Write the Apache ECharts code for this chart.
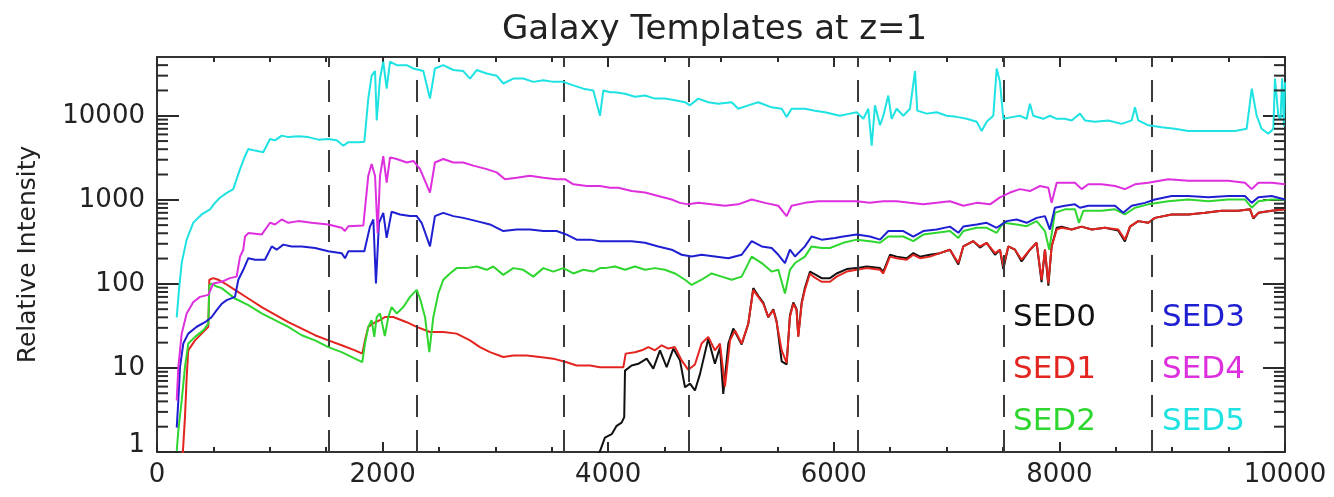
<!DOCTYPE html>
<html>
<head>
<meta charset="utf-8">
<script src="https://cdn.jsdelivr.net/npm/echarts@6/dist/echarts.min.js"></script>
<style>
  html, body { margin: 0; padding: 0; background: #fff; }
  #chart { width: 1334px; height: 497px; }
</style>
</head>
<body>
<div id="chart"></div>
<script>
// Template spectra, [wavelength, relative intensity]
const sed0 = [[3912,0.9],[3971,1.48],[4031,1.63],[4075,2.05],[4119,2.24],[4142,2.6],[4149,9.3],[4208,10.7],[4267,11.2],[4341,12.9],[4400,9.8],[4459,16.2],[4518,10.2],[4577,17],[4636,12.3],[4681,5.9],[4725,6.5],[4769,5.4],[4814,8.5],[4887,22.3],[4946,11.2],[4991,17.7],[5020,4.9],[5065,19.5],[5109,29.4],[5183,19],[5242,33.6],[5286,89],[5330,72],[5375,60],[5419,40],[5464,50],[5493,36],[5538,12],[5582,11],[5611,42],[5641,60],[5670,50],[5685,24],[5715,60],[5744,90],[5789,140],[5818,133],[5892,117],[5966,117],[6025,133],[6114,150],[6203,154],[6291,161],[6410,154],[6439,140],[6498,222],[6557,211],[6646,202],[6705,232],[6764,211],[6852,222],[6941,232],[7030,255],[7104,170],[7148,279],[7237,322],[7296,270],[7355,308],[7429,222],[7473,255],[7503,150],[7547,279],[7606,255],[7665,185],[7739,255],[7798,308],[7842,105],[7872,255],[7902,95],[7931,279],[7976,465],[8020,480],[8108,443],[8197,480],[8286,443],[8404,465],[8522,430],[8581,320],[8626,480],[8699,558],[8788,533],[8847,610],[8995,670],[9143,670],[9291,700],[9439,740],[9586,740],[9690,770],[9719,600],[9764,700],[9882,740],[10000,770]];

const sed1 = [[225,0.8],[248,2.6],[263,7.7],[277,16.2],[337,21.3],[396,25.6],[455,30.8],[464,112],[499,117],[543,112],[603,101],[691,85],[810,67],[928,53],[1046,43],[1164,35],[1283,29.4],[1401,24.5],[1519,21.3],[1637,18.6],[1755,16.2],[1820,14.8],[1844,21.3],[1873,30.8],[1933,35],[1977,37],[2021,40.4],[2095,40.4],[2214,35],[2302,30.8],[2420,26.8],[2538,26.8],[2656,25.6],[2775,21.3],[2863,17.7],[2952,15.4],[3070,13.5],[3159,14.1],[3277,14.1],[3395,13.5],[3513,12.9],[3632,11.7],[3720,10.7],[3839,10.7],[3927,10.2],[4016,10.2],[4089,10.2],[4134,10.2],[4155,14.8],[4237,15.4],[4297,16.2],[4356,17.7],[4415,16.2],[4474,18.6],[4533,17],[4592,17.7],[4651,12.3],[4710,9.5],[4769,11],[4828,19.5],[4887,23.4],[4946,16.2],[4991,19.5],[5035,6],[5080,21.3],[5124,28],[5183,19.5],[5242,33.6],[5286,85],[5330,70],[5375,58],[5419,40.4],[5464,48.8],[5493,35],[5538,16.2],[5582,11.5],[5611,40.4],[5641,58],[5670,48.8],[5685,23.4],[5715,58],[5744,85],[5789,133],[5818,122],[5892,106],[5966,106],[6025,122],[6114,140],[6203,147],[6291,154],[6410,147],[6439,133],[6498,211],[6557,202],[6646,194],[6705,222],[6764,202],[6852,211],[6941,232],[7030,255],[7104,177],[7148,279],[7237,322],[7296,279],[7355,308],[7429,232],[7473,255],[7503,162],[7547,279],[7606,255],[7665,194],[7739,255],[7798,308],[7842,112],[7872,255],[7902,101],[7931,279],[7976,443],[8020,465],[8108,443],[8197,480],[8286,443],[8404,465],[8522,443],[8581,336],[8626,480],[8699,558],[8788,533],[8847,610],[8995,670],[9143,670],[9291,700],[9439,740],[9586,740],[9690,770],[9719,610],[9764,700],[9882,740],[10000,770]];

const sed2 = [[175,1.03],[189,1.78],[219,4.1],[248,10.2],[277,19.5],[337,23.4],[410,28],[455,33.6],[464,97],[485,101],[529,93],[574,89],[691,67],[810,56],[928,44.5],[1046,37],[1164,30.8],[1283,24.5],[1401,21.3],[1519,17.7],[1637,15.4],[1755,12.9],[1820,11.7],[1844,19.5],[1873,30.8],[1903,37],[1926,23.4],[1948,40.4],[1977,44.5],[2020,24],[2050,40],[2080,53],[2125,44.5],[2184,53],[2243,70],[2302,85],[2332,67],[2376,40.4],[2414,15.4],[2450,40.4],[2494,77],[2538,112],[2597,133],[2656,154],[2745,154],[2834,161],[2923,147],[2981,161],[3070,128],[3159,154],[3247,147],[3336,122],[3425,154],[3513,140],[3602,154],[3691,133],[3779,147],[3868,140],[3927,154],[3971,154],[4060,161],[4149,147],[4237,161],[4326,147],[4415,154],[4503,147],[4592,133],[4681,112],[4740,97],[4828,112],[4917,133],[5006,122],[5095,112],[5183,122],[5272,211],[5361,177],[5449,140],[5508,147],[5567,77],[5611,147],[5656,177],[5744,211],[5803,279],[5892,267],[5966,267],[6084,308],[6203,336],[6321,322],[6410,308],[6483,366],[6616,366],[6705,322],[6793,386],[6912,405],[7030,425],[7104,352],[7148,425],[7267,465],[7355,465],[7444,405],[7503,533],[7621,509],[7710,485],[7798,558],[7872,425],[7910,255],[7960,700],[8049,770],[8138,770],[8173,533],[8212,740],[8374,740],[8493,770],[8581,670],[8670,805],[8788,883],[8965,960],[9143,1010],[9320,960],[9497,1010],[9645,1010],[9705,805],[9764,960],[9882,1010],[10000,1010]];

const sed3 = [[175,1.95],[189,4.1],[204,10.2],[233,19.5],[277,25.6],[352,30.9],[426,35],[485,40.4],[529,48.8],[574,58],[618,64],[691,70],[721,112],[765,147],[810,202],[869,194],[957,194],[1017,279],[1061,255],[1120,293],[1194,279],[1283,279],[1401,267],[1519,244],[1637,232],[1667,202],[1696,244],[1838,244],[1888,480],[1918,584],[1941,101],[1968,533],[2006,700],[2036,352],[2080,720],[2154,670],[2243,640],[2302,640],[2346,533],[2420,279],[2464,640],[2538,700],[2627,640],[2715,610],[2834,558],[2952,509],[3070,425],[3189,443],[3306,443],[3425,425],[3543,425],[3632,386],[3720,336],[3839,336],[3927,322],[4016,322],[4089,322],[4208,322],[4326,308],[4444,279],[4563,255],[4651,222],[4740,212],[4828,222],[4946,212],[5065,202],[5183,222],[5272,322],[5361,279],[5449,267],[5508,222],[5567,177],[5611,255],[5656,212],[5744,279],[5803,366],[5892,336],[6010,352],[6084,366],[6203,386],[6321,366],[6410,336],[6483,425],[6616,425],[6705,366],[6793,425],[6912,443],[7030,480],[7104,405],[7148,480],[7267,509],[7355,533],[7444,465],[7532,558],[7621,584],[7710,533],[7798,610],[7872,640],[7916,443],[7960,805],[8049,850],[8138,883],[8182,805],[8256,850],[8374,850],[8493,850],[8566,700],[8641,850],[8758,920],[8847,1010],[8995,1110],[9143,1110],[9320,1070],[9497,1110],[9645,1110],[9705,920],[9764,1070],[9882,1110],[10000,1010]];

const sed4 = [[175,4.1],[189,10.2],[219,25.6],[263,44.5],[322,61],[381,70],[455,74],[499,101],[574,106],[647,117],[706,122],[736,211],[765,255],[780,366],[810,402],[928,386],[1002,533],[1046,509],[1105,584],[1164,533],[1253,558],[1371,533],[1519,509],[1637,465],[1667,425],[1696,485],[1829,495],[1873,1930],[1903,2660],[1933,1930],[1956,400],[1977,1930],[2006,3300],[2036,1600],[2066,3200],[2125,3060],[2214,2780],[2273,2900],[2332,2320],[2420,1220],[2464,2780],[2538,3060],[2627,2780],[2715,2780],[2804,2550],[2923,2320],[3011,2120],[3085,1760],[3189,1830],[3306,1930],[3425,1830],[3543,1760],[3617,1760],[3691,1530],[3809,1460],[3927,1460],[4016,1390],[4089,1390],[4208,1270],[4326,1220],[4444,1110],[4563,1010],[4636,920],[4710,883],[4799,920],[4917,883],[5035,850],[5153,883],[5272,1010],[5390,920],[5508,850],[5582,640],[5626,850],[5744,920],[5862,960],[6010,960],[6084,960],[6203,960],[6321,920],[6439,960],[6557,960],[6675,920],[6793,883],[6912,920],[7030,960],[7148,850],[7267,920],[7385,883],[7473,1070],[7562,1220],[7650,1340],[7739,1270],[7828,1460],[7902,1390],[7931,920],[7976,1600],[8049,1600],[8138,1600],[8197,1340],[8256,1530],[8374,1530],[8493,1460],[8581,1340],[8670,1530],[8788,1600],[8965,1760],[9143,1690],[9320,1690],[9497,1690],[9645,1600],[9705,1340],[9764,1600],[9882,1600],[10000,1530]];

const sed5 = [[175,40],[195,85],[219,178],[263,336],[322,535],[396,670],[470,769],[514,920],[558,1060],[618,1210],[676,1340],[706,1760],[736,2320],[780,3300],[810,4030],[869,3850],[942,3680],[1002,5300],[1046,5100],[1105,5800],[1164,5570],[1253,5700],[1341,5570],[1430,5200],[1519,5300],[1593,5100],[1652,4400],[1696,4850],[1785,4850],[1838,4900],[1873,16000],[1903,30000],[1933,34000],[1948,8800],[1977,27700],[2006,44000],[2036,21000],[2066,44000],[2125,40000],[2214,40000],[2273,36500],[2361,34000],[2420,16000],[2464,36500],[2538,40000],[2627,35000],[2715,34000],[2775,27700],[2834,35000],[2923,31800],[3011,30000],[3070,24200],[3159,27700],[3247,27700],[3336,25300],[3425,26500],[3513,25300],[3602,25300],[3691,23000],[3779,21000],[3868,20000],[3927,10000],[3957,20000],[4016,19000],[4060,19000],[4149,18300],[4237,16800],[4326,17400],[4415,16000],[4503,16000],[4592,15300],[4681,14500],[4725,13300],[4799,16000],[4887,14500],[4976,13900],[5095,14500],[5153,12100],[5242,13300],[5330,14500],[5449,12600],[5538,12100],[5582,9700],[5626,12100],[5744,12100],[5833,11500],[5922,11000],[6054,10000],[6143,10600],[6203,11000],[6262,9200],[6306,12100],[6336,4400],[6365,13300],[6410,7700],[6439,10000],[6483,17400],[6513,9200],[6557,12100],[6616,10000],[6675,12100],[6720,34000],[6740,11500],[6823,10600],[6912,11000],[7000,10000],[7089,9700],[7178,9200],[7267,8500],[7311,6600],[7355,8500],[7414,10000],[7444,36500],[7473,25300],[7503,9200],[7591,9700],[7650,10000],[7710,9200],[7739,13900],[7768,10000],[7857,9200],[7916,10000],[7976,9200],[8049,9200],[8108,8800],[8182,10600],[8227,8800],[8315,8500],[8433,8800],[8552,8000],[8641,8800],[8670,12600],[8699,8800],[8788,7700],[8906,7300],[9024,6990],[9143,6600],[9291,6600],[9439,6600],[9557,6600],[9660,7000],[9705,21000],[9749,10000],[9793,7000],[9852,6100],[9897,7000],[9911,27700],[9941,10000],[9960,9000],[9975,28000],[9990,7500],[10000,25000]];

const seriesNames = ['SED0', 'SED1', 'SED2', 'SED3', 'SED4', 'SED5'];
const seriesColors = ['#111111', '#e3241f', '#2fd62f', '#1f1fd2', '#dd2fdd', '#1fe2e2'];
const seriesData = [sed0, sed1, sed2, sed3, sed4, sed5];

// Vertical dashed reference wavelengths
const bandEdges = [1520, 2300, 3610, 4715, 6215, 7510, 8820];

// Axis ticks
const xTickInterval = 2000;
const yMinorTicks = [2,3,4,5,6,7,8,9,20,30,40,50,60,70,80,90,200,300,400,500,600,700,800,900,
  2000,3000,4000,5000,6000,7000,8000,9000,20000,30000,40000];

const FONT = 'DejaVu Sans';
const INK = '#222';
const TICK = '#2a2a2a';

const chart = echarts.init(document.getElementById('chart'), null, { renderer: 'canvas' });

const frameLine = { show: true, onZero: false, lineStyle: { color: '#333', width: 2 } };

function xAxisDef(pos, showLabels) {
  return {
    type: 'value', position: pos, min: 0, max: 10000, interval: xTickInterval,
    axisLine: frameLine,
    axisTick: { show: true, inside: true, length: 10, lineStyle: { color: TICK, width: 2 } },
    minorTick: { show: true, splitNumber: 4, length: 5, lineStyle: { color: TICK, width: 2 } },
    splitLine: { show: false },
    minorSplitLine: { show: false },
    axisLabel: {
      show: showLabels, margin: 10, color: INK, fontFamily: FONT, fontSize: 26,
      formatter: v => String(v)
    }
  };
}

function yAxisDef(pos, showLabels) {
  const def = {
    type: 'log', logBase: 10, position: pos, min: 1, max: 50000,
    axisLine: frameLine,
    axisTick: { show: true, inside: true, length: 22, lineStyle: { color: TICK, width: 2 } },
    splitLine: { show: false },
    axisLabel: {
      show: showLabels, margin: 12, color: INK, fontFamily: FONT, fontSize: 26,
      showMaxLabel: false,
      formatter: v => {
        const n = Math.round(v);
        return n === 1 ? '{one|1}' : String(n);
      },
      rich: { one: { fontFamily: FONT, fontSize: 26, color: INK, padding: [0, 0, 14, 0] } }
    }
  };
  if (showLabels) {
    def.name = 'Relative Intensity';
    def.nameLocation = 'middle';
    def.nameGap = 116;
    def.nameTextStyle = { fontFamily: FONT, fontSize: 25, color: INK };
  }
  return def;
}

function legendDef(left, names) {
  return {
    orient: 'vertical', left: left, top: 300, padding: 0,
    icon: 'none', itemWidth: 0, itemHeight: 36, itemGap: 16,
    selectedMode: false,
    textStyle: { fontFamily: FONT, fontSize: 31, lineHeight: 36 },
    data: names.map(n => ({
      name: n,
      textStyle: { color: seriesColors[seriesNames.indexOf(n)] }
    }))
  };
}

const lineSeries = seriesNames.map((name, i) => ({
  name: name,
  type: 'line',
  data: seriesData[i],
  showSymbol: false,
  symbol: 'none',
  clip: true,
  color: seriesColors[i],
  lineStyle: { color: seriesColors[i], width: 2 },
  z: 3 + i
}));

const option = {
  animation: false,
  backgroundColor: '#ffffff',
  title: {
    text: 'Galaxy Templates at z=1',
    left: 502, top: 13, padding: 0,
    textStyle: { fontFamily: FONT, fontSize: 34, fontWeight: 'normal', color: INK }
  },
  grid: { left: 157, right: 49, top: 57, bottom: 45, containLabel: false, outerBoundsMode: 'none' },
  legend: [
    legendDef(1008, ['SED0', 'SED1', 'SED2']),
    legendDef(1157, ['SED3', 'SED4', 'SED5'])
  ],
  xAxis: [xAxisDef('bottom', true), xAxisDef('top', false)],
  yAxis: [yAxisDef('left', true), yAxisDef('right', false)],
  series: [
    {
      name: 'bandEdges',
      type: 'line',
      data: [],
      silent: true,
      z: 2,
      markLine: {
        silent: true,
        symbol: ['none', 'none'],
        label: { show: false },
        lineStyle: { type: [22, 13], color: '#3a3a3a', width: 2 },
        data: bandEdges.map(x => ({ xAxis: x }))
      }
    },
    {
      // log-decade minor ticks on the left and right frame edges
      name: 'yMinorTicks',
      type: 'custom',
      coordinateSystem: 'cartesian2d',
      xAxisIndex: 0,
      yAxisIndex: 0,
      silent: true,
      clip: false,
      z: 10,
      data: yMinorTicks.map(v => [0, v]),
      encode: { x: 0, y: 1 },
      renderItem: (params, api) => {
        const v = api.value(1);
        const l = api.coord([0, v]);
        const r = api.coord([10000, v]);
        return {
          type: 'group',
          children: [
            { type: 'line', shape: { x1: l[0], y1: l[1], x2: l[0] + 11, y2: l[1] },
              style: { stroke: TICK, lineWidth: 2 } },
            { type: 'line', shape: { x1: r[0] - 11, y1: r[1], x2: r[0], y2: r[1] },
              style: { stroke: TICK, lineWidth: 2 } }
          ]
        };
      }
    }
  ].concat(lineSeries)
};

chart.setOption(option);
</script>
</body>
</html>
